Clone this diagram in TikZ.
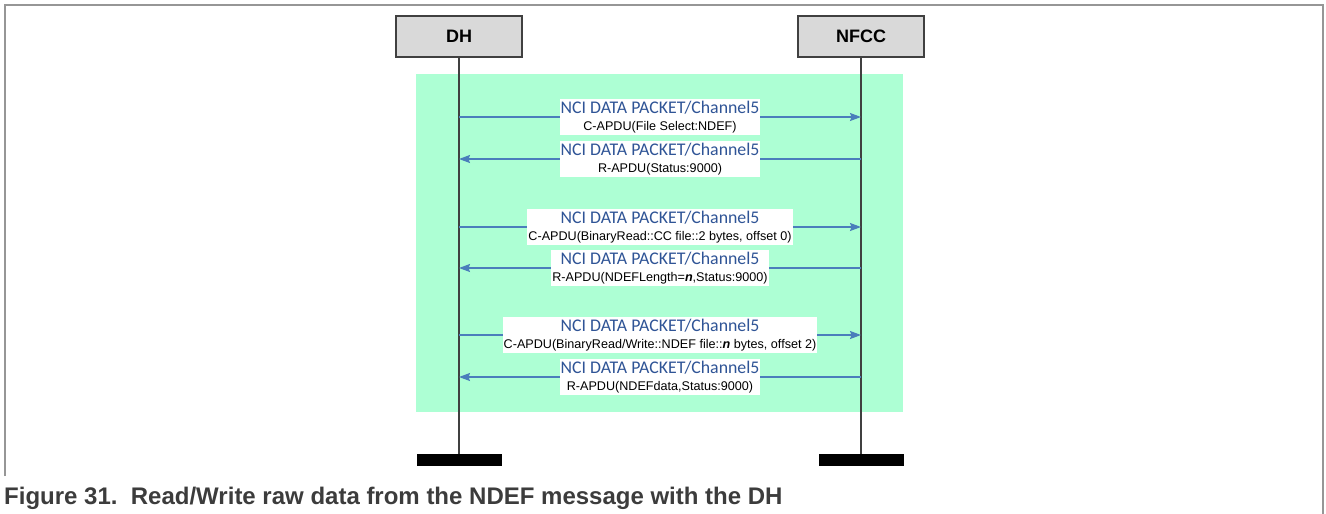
\documentclass[tikz,border=0pt]{standalone}
\usepackage{fontspec}
\setmainfont{Liberation Sans}
\newfontfamily\pktfont{Carlito}
\usetikzlibrary{arrows.meta}

\definecolor{mintbg}{RGB}{173,255,212}
\definecolor{msgblue}{RGB}{74,126,187}
\definecolor{pktblue}{RGB}{47,84,150}
\definecolor{hdrgray}{RGB}{217,217,217}
\definecolor{linegray}{RGB}{64,64,64}
\definecolor{framegray}{RGB}{150,150,150}
\definecolor{captiongray}{RGB}{60,60,60}

\tikzset{
    entity/.style={draw=linegray, line width=1.5pt, fill=hdrgray, minimum width=126pt, minimum height=41pt, font=\fontsize{18}{18}\selectfont\bfseries},
    endbar/.style={fill=black, minimum width=85pt, minimum height=12pt, inner sep=0pt},
    lifeline/.style={draw=linegray, line width=1.8pt},
    msg/.style={draw=msgblue, line width=1.3pt, -{Stealth[length=11pt,width=8pt,inset=1.5pt]}},
    lbl/.style={fill=white, inner xsep=1pt, inner ysep=2pt, align=center, font=\fontsize{12.6}{17}\selectfont}
}
\newcommand{\pkt}{{\pktfont\fontsize{17.8}{17}\selectfont\color{pktblue}NCI DATA PACKET/Channel5}}

\begin{document}
\begin{tikzpicture}[x=1pt, y=-1pt]
        \useasboundingbox (0,0) rectangle (1326,514);
        % Frame and background
        \draw[framegray, line width=1.5pt] (5,476) -- (5,5) -- (1323,5) -- (1323,514);
        \fill[mintbg] (416,74) rectangle (903,412);

        % Entities
        \node[entity] (dh) at (459,36.5) {DH};
        \node[entity] (nfcc) at (861,36.5) {NFCC};
        \node[endbar] (dhend) at (459,460) {};
        \node[endbar] (nfccend) at (861,460) {};
        \draw[lifeline] (dh) -- (dhend);
        \draw[lifeline] (nfcc) -- (nfccend);

        % File select
        \coordinate (m1) at (0,117);
        \coordinate (m2) at (0,159);
        \draw[msg] (dh |- m1) -- node[lbl] {\pkt\\C-APDU(File Select:NDEF)} (nfcc |- m1);
        \draw[msg] (nfcc |- m2) -- node[lbl] {\pkt\\R-APDU(Status:9000)} (dh |- m2);

        % CC file
        \coordinate (m3) at (0,227);
        \coordinate (m4) at (0,268);
        \draw[msg] (dh |- m3) -- node[lbl] {\pkt\\C-APDU(BinaryRead::CC file::2 bytes, offset 0)} (nfcc |- m3);
        \draw[msg] (nfcc |- m4) -- node[lbl] {\pkt\\R-APDU(NDEFLength=\textbf{\textit{n}},Status:9000)} (dh |- m4);

        % NDEF file
        \coordinate (m5) at (0,335);
        \coordinate (m6) at (0,377);
        \draw[msg] (dh |- m5) -- node[lbl] {\pkt\\C-APDU(BinaryRead/Write::NDEF file::\textbf{\textit{n}} bytes, offset 2)} (nfcc |- m5);
        \draw[msg] (nfcc |- m6) -- node[lbl] {\pkt\\R-APDU(NDEFdata,Status:9000)} (dh |- m6);

        \node[anchor=base west, inner sep=0pt, text=captiongray, font=\fontsize{24}{24}\selectfont\bfseries] (caption) at (4,504) {Figure 31.\ \ Read/Write raw data from the NDEF message with the DH};
    \end{tikzpicture}
\end{document}
